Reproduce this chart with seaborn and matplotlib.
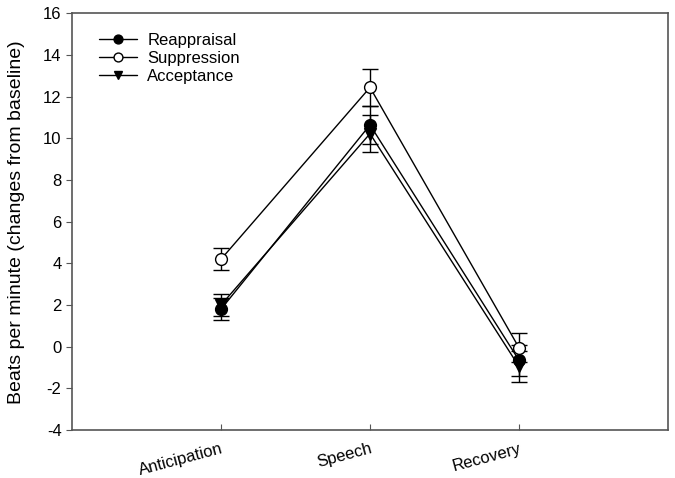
import matplotlib
matplotlib.use("Agg")
import matplotlib.pyplot as plt
import pandas as pd
import seaborn as sns

## Data
phases = ["Anticipation", "Speech", "Recovery"]
reappraisal = [1.8, 10.65, -0.65]
reappraisal_err = [0.52, 0.9, 0.75]
suppression = [4.2, 12.45, -0.05]
suppression_err = [0.52, 0.9, 0.7]
acceptance = [2.0, 10.23, -0.95]
acceptance_err = [0.52, 0.9, 0.73]

groups = ["Reappraisal", "Suppression", "Acceptance"]
means = [reappraisal, suppression, acceptance]
errs = [reappraisal_err, suppression_err, acceptance_err]

## Long format frame
rows = []
for g, m, e in zip(groups, means, errs):
    for i, p in enumerate(phases):
        rows.append({"group": g, "phase": p, "pos": i + 1, "hr": m[i], "err": e[i]})
df = pd.DataFrame(rows)

sns.set_style("white", {"text.color": "black", "axes.labelcolor": "black",
                        "xtick.color": "black", "ytick.color": "black"})
plt.rcParams["font.family"] = ["Liberation Sans", "DejaVu Sans"]
plt.rcParams["axes.unicode_minus"] = False

fig = plt.figure(figsize=(6.75, 4.78), dpi=100)
ax = fig.add_axes([0.1067, 0.1004, 0.8829, 0.8714])

styles = {
    "Reappraisal": dict(marker="o", mfc="black"),
    "Suppression": dict(marker="o", mfc="white"),
    "Acceptance": dict(marker="v", mfc="black"),
}

# error bars first, markers drawn over them
for g in groups:
    sub = df[df["group"] == g]
    ax.errorbar(sub["pos"], sub["hr"], yerr=sub["err"], fmt="none",
                ecolor="black", elinewidth=1, capsize=6, capthick=1, zorder=2)

for g in groups:
    sub = df[df["group"] == g]
    sns.lineplot(data=sub, x="pos", y="hr", ax=ax, color="black", linewidth=1,
                 marker=styles[g]["marker"], markersize=8.5,
                 markerfacecolor=styles[g]["mfc"], markeredgecolor="black",
                 markeredgewidth=1, label=g, zorder=3)

ax.set_xlim(0, 4)
ax.set_ylim(-4, 16)
ax.set_xticks([1, 2, 3])
ax.set_xticklabels(phases, rotation=15, ha="right", rotation_mode="anchor", fontsize=12)
ax.set_yticks(range(-4, 17, 2))
ax.tick_params(axis="y", labelsize=12, direction="out", length=4, left=True,
               color="#555555", labelcolor="black")
ax.tick_params(axis="x", direction="in", length=4, bottom=True,
               color="#555555", labelcolor="black", pad=8)
ax.set_xlabel("")
ax.set_ylabel("Beats per minute (changes from baseline)", fontsize=14, labelpad=13,
              color="black")

for s in ax.spines.values():
    s.set_color("#555555")
    s.set_linewidth(1.2)

leg = ax.legend(loc="upper left", bbox_to_anchor=(0.02, 0.99), frameon=False,
                fontsize=12, handlelength=2.3, handletextpad=0.6, labelspacing=0.2,
                markerscale=0.75)
for t in leg.get_texts():
    t.set_color("black")

fig.savefig("out.png", dpi=100)
